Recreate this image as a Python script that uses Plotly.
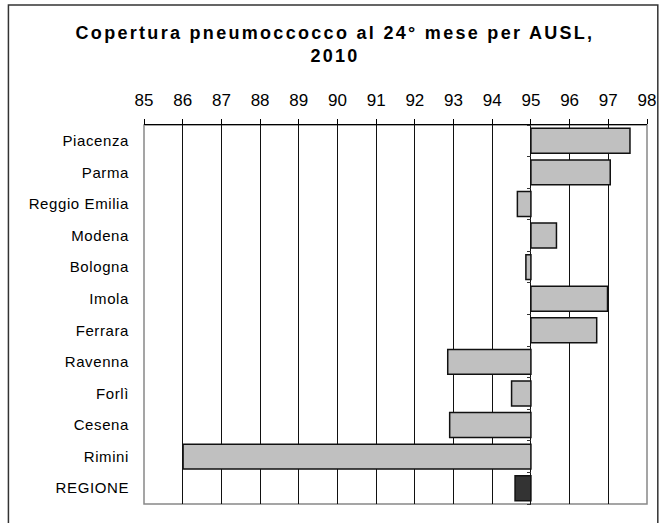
import plotly.graph_objects as go

categories = ["Piacenza", "Parma", "Reggio Emilia", "Modena", "Bologna", "Imola",
              "Ferrara", "Ravenna", "Forlì", "Cesena", "Rimini", "REGIONE"]
values = [97.56, 97.05, 94.65, 95.66, 94.87, 96.98, 96.70, 92.85, 94.50, 92.90, 86.01, 94.59]
baseline = 95
x_ticks = list(range(85, 99))
title_lines = ["Copertura pneumoccocco al 24° mese per AUSL,", "2010"]

W, H = 668, 523
ml, mr, mt, mb = 144, 12, 125, 19
pw = W - ml - mr
ph = H - mt - mb

def px2x(p):
    return (p - ml) / pw

def py2y(p):
    return (H - mb - p) / ph

def spaced(s, ls):
    return f'<span style="letter-spacing:{ls}px">{s}</span>'

colors = ["#333333" if c == "REGIONE" else "#C0C0C0" for c in categories]

fig = go.Figure()
fig.add_trace(go.Bar(
    y=categories,
    x=[v - baseline for v in values],
    base=baseline,
    orientation="h",
    marker=dict(color=colors, line=dict(color="#111111", width=1.5)),
    width=0.79,
    hoverinfo="skip",
))
# invisible trace carrying the category tick marks at the 95 crossing
fig.add_trace(go.Scatter(
    y=list(range(len(categories))),
    x=[baseline] * len(categories),
    yaxis="y2",
    mode="markers",
    marker=dict(opacity=0),
    hoverinfo="skip",
    showlegend=False,
))

font_family = "Liberation Sans, Arial, sans-serif"

fig.update_layout(
    width=W, height=H,
    margin=dict(l=ml, r=mr, t=mt, b=mb),
    paper_bgcolor="white",
    plot_bgcolor="white",
    showlegend=False,
    font=dict(family=font_family, color="black"),
    xaxis=dict(
        range=[85, 98],
        side="top",
        tickmode="array",
        tickvals=x_ticks,
        ticktext=[str(t) for t in x_ticks],
        ticks="outside",
        ticklen=5,
        tickcolor="black",
        tickfont=dict(size=17, family=font_family),
        ticklabelstandoff=6,
        showgrid=True,
        gridcolor="#111111",
        gridwidth=1,
        showline=True,
        linecolor="black",
        linewidth=1,
        zeroline=False,
        fixedrange=True,
    ),
    yaxis=dict(
        type="category",
        categoryorder="array",
        categoryarray=categories,
        range=[len(categories) - 0.5, -0.5],
        tickmode="array",
        tickvals=categories,
        ticktext=[spaced(c, 0.6) for c in categories],
        ticks="",
        tickfont=dict(size=15, family=font_family),
        ticklabelstandoff=14,
        showgrid=False,
        showline=False,
        zeroline=False,
        fixedrange=True,
    ),
    yaxis2=dict(
        overlaying="y",
        anchor="free",
        position=(baseline - 85) / (98 - 85),
        side="left",
        range=[len(categories) - 0.5, -0.5],
        tickmode="array",
        tickvals=[i - 0.5 for i in range(len(categories) + 1)],
        ticks="outside",
        ticklen=4,
        tickcolor="#333333",
        showticklabels=False,
        showgrid=False,
        showline=False,
        zeroline=False,
        fixedrange=True,
    ),
    title=dict(
        text="<b>" + spaced(title_lines[0], 2.3) + "<br>" + spaced(title_lines[1], 2.3) + "</b>",
        x=335 / W,
        xref="container",
        xanchor="center",
        y=1 - 39 / H,
        yanchor="middle",
        font=dict(size=18, family=font_family, color="black"),
    ),
    shapes=[
        dict(type="rect", xref="paper", yref="paper", x0=0, x1=1, y0=0, y1=1,
             line=dict(color="#888888", width=1.5), layer="below"),
        dict(type="rect", xref="paper", yref="paper",
             x0=px2x(6), x1=px2x(667), y0=py2y(535), y1=py2y(5),
             line=dict(color="#333333", width=1.5), layer="below"),
    ],
)

fig.write_html("out.html", post_script="document.body.style.margin='0';",
               config={"displayModeBar": False})
